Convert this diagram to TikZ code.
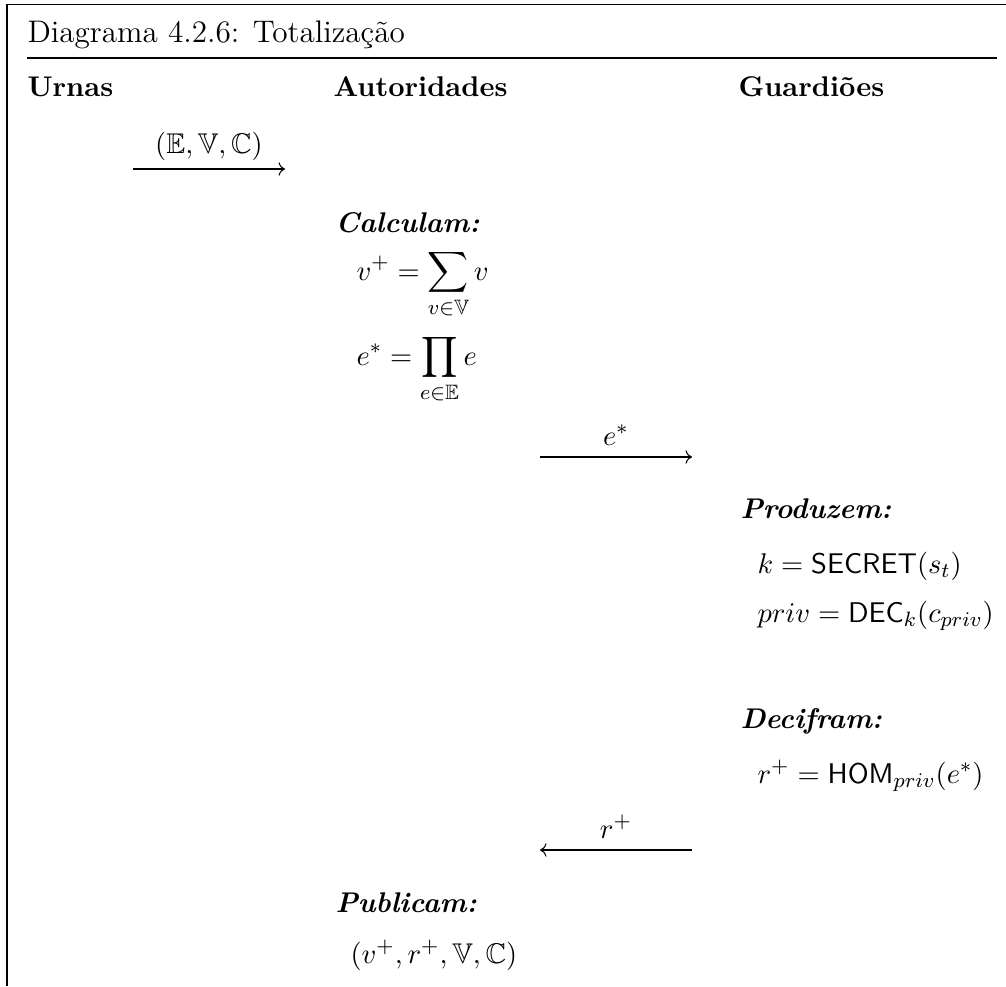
\documentclass[tikz,border=0pt]{standalone}
\usepackage{amsmath,amssymb}
\usepackage{fontspec}
\usetikzlibrary{arrows.meta}
\begin{document}
\begin{tikzpicture}[x=0.3846pt,y=-0.3846pt,
  txt/.style={anchor=base west,inner sep=0pt,font=\fontsize{10.95}{13.6}\selectfont},
  ttl/.style={anchor=base west,inner sep=0pt,font=\fontsize{12}{14.5}\selectfont},
  hd/.style={txt,font=\fontsize{10.95}{13.6}\selectfont\bfseries},
  act/.style={txt,font=\fontsize{10.95}{13.6}\selectfont\bfseries\itshape},
  msg/.style={-{Computer Modern Rightarrow},line width=0.4pt},
  lbl/.style={anchor=base,inner sep=0pt,font=\fontsize{10.95}{13.6}\selectfont},
  frameline/.style={line width=0.7pt}]
\useasboundingbox (0,0) rectangle (1006,986);
% frame
\coordinate (fb) at (7,986);
\coordinate (fc) at (7,4.5);
\coordinate (fr) at (1006,4.5);
\draw[frameline] (fb) -- (fc) -- (fr);
\node[ttl] (title) at (27,42) {Diagrama 4.2.6: Totalização};
\coordinate (rl) at (27,58);
\coordinate (rr) at (997,58);
\draw[line width=0.6pt] (rl) -- (rr);
% headers
\node[hd] (urnas) at (27,96) {Urnas};
\node[hd] (aut) at (333,96) {Autoridades};
\node[hd] (guard) at (738,96) {Guardiões};
% arrow 1
\coordinate (a1s) at (133,169);
\coordinate (a1e) at (285,169);
\draw[msg] (a1s) -- (a1e);
\node[lbl] (l1) at (209,153) {$(\mathbb{E},\mathbb{V},\mathbb{C})$};
% Calculam
\node[act] (calc) at (335,232) {Calculam:};
\node[txt] (sum) at (356,280) {$\displaystyle v^{+}=\sum_{v\in\mathbb{V}}v$};
\node[txt] (prod) at (356,365) {$\displaystyle e^{*}=\prod_{e\in\mathbb{E}}e$};
% arrow 2
\coordinate (a2s) at (540,457);
\coordinate (a2e) at (692,457);
\draw[msg] (a2s) -- (a2e);
\node[lbl] (l2) at (616,445) {$e^{*}$};
% Produzem
\node[act] (prod2) at (740,518) {Produzem:};
\node[txt] (sec) at (757,573) {$k=\mathsf{SECRET}(s_t)$};
\node[txt] (dec) at (757,622) {$priv=\mathsf{DEC}_k(c_{priv})$};
% Decifram
\node[act] (decif) at (740,728) {Decifram:};
\node[txt] (hom) at (757,783) {$r^{+}=\mathsf{HOM}_{priv}(e^{*})$};
% arrow 3
\coordinate (a3s) at (692,850);
\coordinate (a3e) at (540,850);
\draw[msg] (a3s) -- (a3e);
\node[lbl] (l3) at (616,838) {$r^{+}$};
% Publicam
\node[act] (pub) at (335,912) {Publicam:};
\node[txt] (tup) at (350,963) {$(v^{+},r^{+},\mathbb{V},\mathbb{C})$};
\end{tikzpicture}
\end{document}
